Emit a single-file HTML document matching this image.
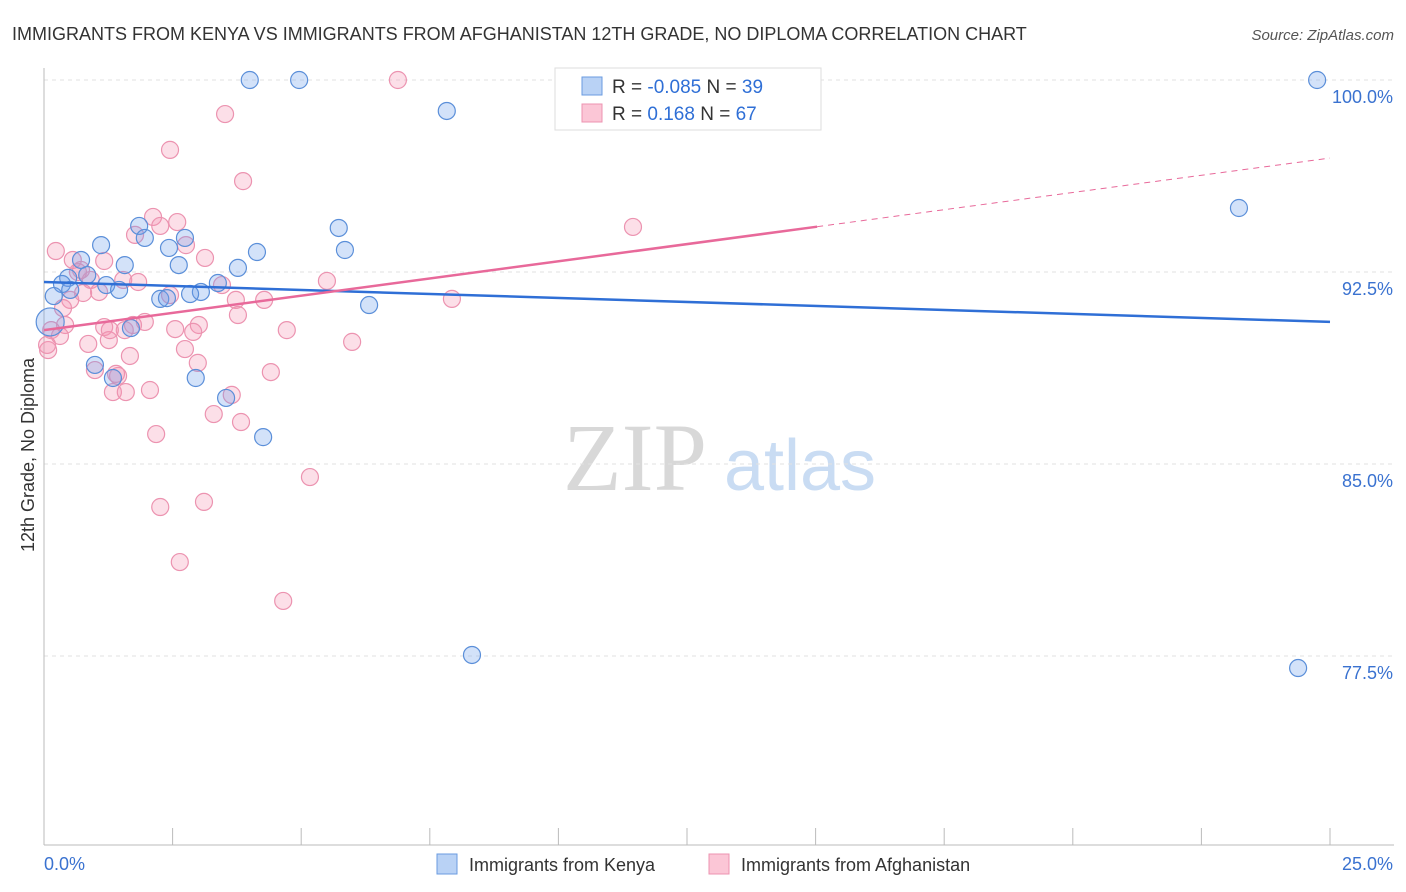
<!DOCTYPE html>
<html><head><meta charset="utf-8">
<style>
body{margin:0;background:#fff;font-family:"Liberation Sans",sans-serif;}
#wrap{position:relative;width:1406px;height:892px;overflow:hidden;}
</style></head>
<body>
<div id="wrap">
<svg id="svg" width="1406" height="892" xmlns="http://www.w3.org/2000/svg">
<text x="12" y="40" font-size="18" fill="#333">IMMIGRANTS FROM KENYA VS IMMIGRANTS FROM AFGHANISTAN 12TH GRADE, NO DIPLOMA CORRELATION CHART</text>
<text x="1394" y="40" font-size="15" fill="#555" font-style="italic" text-anchor="end">Source: ZipAtlas.com</text>
<text x="34" y="455" font-size="18" fill="#333" text-anchor="middle" transform="rotate(-90 34 455)">12th Grade, No Diploma</text>
<g>
<text x="635" y="490" font-size="96" fill="#d8d8d8" font-family="Liberation Serif,serif" text-anchor="middle">ZIP</text>
<text x="800" y="490" font-size="72" fill="#c9dcf3" text-anchor="middle">atlas</text>
</g>
<g id="grid"></g>
<g id="axes"></g>
<g id="pts"></g>
<g id="lines"></g>
<g>
<rect x="555" y="68" width="266" height="62" fill="#fff" stroke="#ddd"/>
<rect x="582" y="77" width="20" height="18" fill="#b9d2f5" stroke="#6a9be0"/>
<rect x="582" y="104" width="20" height="18" fill="#fbc6d6" stroke="#ec93b0"/>
<text x="612" y="93" font-size="19" fill="#333">R = <tspan fill="#2f6fd6">-0.085</tspan>   N = <tspan fill="#2f6fd6">39</tspan></text>
<text x="612" y="120" font-size="19" fill="#333">R =   <tspan fill="#2f6fd6">0.168</tspan>   N = <tspan fill="#2f6fd6">67</tspan></text>
</g>
<g>
<rect x="437" y="854" width="20" height="20" fill="#b9d2f5" stroke="#6a9be0"/>
<text x="469" y="871" font-size="18" fill="#333">Immigrants from Kenya</text>
<rect x="709" y="854" width="20" height="20" fill="#fbc6d6" stroke="#ec93b0"/>
<text x="741" y="871" font-size="18" fill="#333">Immigrants from Afghanistan</text>
</g>
</svg>
</div>
<script>
const yTicks=[100,92.5,85,77.5];
const yTickLabels=["100.0%","92.5%","85.0%","77.5%"];
const xTicks=[0,2.5,5,7.5,10,12.5,15,17.5,20,22.5,25];
const kenyaX=[4.00,4.96,7.83,24.75,23.23,1.85,1.96,1.11,2.74,2.43,4.14,5.73,5.85,0.72,1.57,2.62,3.77,0.47,0.35,1.21,1.46,3.38,3.05,2.84,2.26,2.39,6.32,0.19,0.12,1.69,0.99,1.34,2.95,3.54,4.26,8.32,24.38,0.84,0.51];
const kenyaY=[100,100,98.79,100,95.0,94.3,93.83,93.55,93.83,93.44,93.28,94.22,93.36,92.97,92.77,92.77,92.66,92.27,92.03,91.99,91.8,92.07,91.72,91.64,91.45,91.48,91.21,91.56,90.55,90.31,88.87,88.36,88.36,87.58,86.05,77.54,77.03,92.38,91.8];
const afgX=[6.88,3.52,2.45,3.87,10.42,2.12,1.77,2.26,2.59,2.76,0.23,11.45,3.13,1.17,0.56,0.66,0.91,0.72,1.54,1.83,2.45,3.46,3.73,4.28,5.5,7.93,0.51,3.77,0.41,1.17,1.96,1.73,2.55,3.01,1.26,1.57,2.9,4.72,5.99,0.86,0.14,0.31,0.08,1.67,2.99,0.99,1.44,4.41,1.34,1.59,3.3,3.83,2.18,5.17,3.11,2.26,2.64,4.65,1.07,0.76,1.28,0.06,0.37,1.4,2.06,3.65,2.74];
const afgY=[100,98.67,97.27,96.05,98.52,94.65,93.95,94.3,94.45,93.55,93.32,94.26,93.05,92.93,92.97,92.5,92.19,92.58,92.19,92.11,91.6,91.99,91.41,91.41,92.15,91.45,91.41,90.82,90.43,90.35,90.55,90.43,90.27,90.43,89.84,90.23,90.16,90.23,89.77,89.69,90.23,90.0,89.45,89.22,88.95,88.67,88.44,88.59,87.81,87.81,86.95,86.64,86.17,84.49,83.52,83.32,81.17,79.65,91.72,91.68,90.23,89.65,91.09,88.52,87.89,87.7,89.49];
const kenyaTrend=[92.11,90.55];
const afgTrend=[90.23,96.95];
const afgSolidEnd=15.03;

const NS="http://www.w3.org/2000/svg";
const sx=v=>44+v*51.44;
const sy=v=>80+(100-v)*25.6;
function mk(tag,attrs,parent){const e=document.createElementNS(NS,tag);for(const k in attrs)e.setAttribute(k,attrs[k]);document.getElementById(parent).appendChild(e);return e;}
yTicks.forEach((t,i)=>{
  const l=mk('line',{x1:44,x2:1394,y1:sy(t),y2:sy(t),stroke:'#e2e2e2','stroke-dasharray':'4,4'},'grid');
  
  
  const tx=mk('text',{x:1393,y:sy(t)+23,'font-size':18,fill:'#3a72d0','text-anchor':'end'},'grid');
  tx.textContent=yTickLabels[i];
  
  
});
const ya=mk('line',{x1:44,x2:44,y1:68,y2:845,stroke:'#bbb'},'axes');


const xa=mk('line',{x1:44,x2:1394,y1:845,y2:845,stroke:'#bbb'},'axes');


xTicks.forEach(t=>{
  const l=mk('line',{x1:sx(t),x2:sx(t),y1:828,y2:845,stroke:'#bbb'},'axes');
  
  
});
const x0=mk('text',{x:44,y:870,'font-size':18,fill:'#3a72d0'},'axes');x0.textContent='0.0%';


const x1=mk('text',{x:1393,y:870,'font-size':18,fill:'#3a72d0','text-anchor':'end'},'axes');x1.textContent='25.0%';


function pts(X,Y,fill,stroke,name){X.forEach((x,i)=>{
  const r=(name==='kenya-point'&&i===28)?14:8.5;
  const c=mk('circle',{cx:sx(x),cy:sy(Y[i]),r:r,fill:fill,stroke:stroke,'stroke-width':1.2},'pts');
  
  
});}
pts(afgX,afgY,'rgba(244,150,180,0.3)','#ec93b0','afghanistan-point');
pts(kenyaX,kenyaY,'rgba(110,160,235,0.3)','#5b8fd9','kenya-point');
const kb=mk('line',{x1:sx(0),y1:sy(kenyaTrend[0]),x2:sx(25),y2:sy(kenyaTrend[1]),stroke:'#2f6fd6','stroke-width':2.5},'lines');


const ay=x=>afgTrend[0]+(afgTrend[1]-afgTrend[0])*x/25;
const ap=mk('line',{x1:sx(0),y1:sy(ay(0)),x2:sx(afgSolidEnd),y2:sy(ay(afgSolidEnd)),stroke:'#e8699a','stroke-width':2.5},'lines');


const ad=mk('line',{x1:sx(afgSolidEnd),y1:sy(ay(afgSolidEnd)),x2:sx(25),y2:sy(ay(25)),stroke:'#e8699a','stroke-width':1,'stroke-dasharray':'6,5'},'lines');


</script>
</body></html>
